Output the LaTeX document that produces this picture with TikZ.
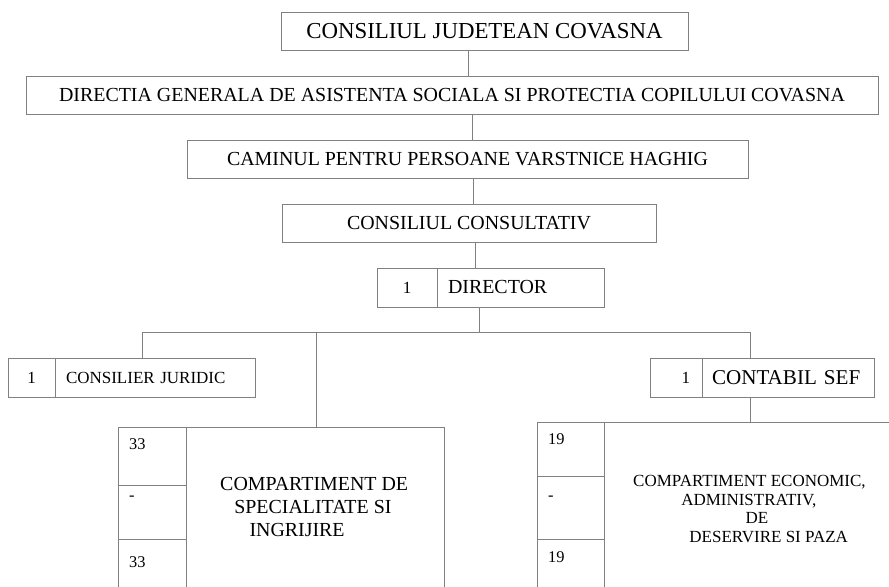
\documentclass[tikz,border=0pt]{standalone}
\usepackage{fontspec}
\setmainfont{Liberation Serif}
\definecolor{linegray}{gray}{0.5}
\tikzset{
  box/.style={draw=linegray, line width=0.7pt, rectangle, inner sep=0pt, align=center},
  link/.style={draw=linegray, line width=0.7pt},
  num/.style={inner sep=0pt, anchor=west, font=\fontsize{14}{16}\selectfont},
}

\begin{document}
\begin{tikzpicture}[x=0.03cm, y=-0.03cm]
  % one pixel of the reference (y runs downwards)
  \def\px{0.03cm}
  \useasboundingbox (0,0) rectangle (889,587);
  \clip (0,0) rectangle (889,587);

  % chain of offices at the top
  \node[box, minimum width=407*\px, minimum height=38*\px, font=\fontsize{19.5}{22}\selectfont]
    (cjc) at (484.5,31) {CONSILIUL JUDETEAN COVASNA};
  \node[box, minimum width=852*\px, minimum height=38*\px, font=\fontsize{17}{20}\selectfont]
    (dgas) at (452,95) {DIRECTIA GENERALA DE ASISTENTA SOCIALA SI PROTECTIA COPILULUI COVASNA};
  \node[box, minimum width=561*\px, minimum height=38*\px, font=\fontsize{17}{20}\selectfont]
    (cpv) at (467.5,159) {CAMINUL PENTRU PERSOANE VARSTNICE HAGHIG};
  \node[box, minimum width=374*\px, minimum height=38*\px, font=\fontsize{17}{20}\selectfont]
    (cc) at (469,223) {CONSILIUL CONSULTATIV};

  % director: count cell + name cell
  \node[box, minimum width=60*\px, minimum height=39*\px, font=\fontsize{14.5}{17}\selectfont]
    (dirn) at (407,287.5) {1};
  \node[box, minimum height=39*\px, inner xsep=11*\px, text width=145*\px, align=left,
    font=\fontsize{17}{20}\selectfont] (dir) at (520.5,287.5) {DIRECTOR};

  % consilier juridic
  \node[box, minimum width=47*\px, minimum height=39*\px, font=\fontsize{14.5}{17}\selectfont]
    (cjn) at (31.5,377.5) {1};
  \node[box, minimum height=39*\px, inner xsep=11*\px, text width=178*\px, align=left,
    font=\fontsize{14.5}{17}\selectfont] (cj) at (155,377.5) {CONSILIER JURIDIC};

  % contabil sef
  \node[box, minimum height=39*\px, inner xsep=12*\px, text width=28*\px, align=right,
    font=\fontsize{14.5}{17}\selectfont] (csn) at (676,377.5) {1};
  \node[box, minimum height=39*\px, inner xsep=10*\px, text width=152*\px, align=left,
    font=\fontsize{18}{21}\selectfont] (cs) at (788,377.5) {CONTABIL SEF};

  % left compartment: count column and name cell
  \foreach \i/\yc/\h/\ty/\t in {1/456/58/444/33, 2/512/54/498/-, 3/569.5/61/562/33} {
    \node[box, minimum width=68*\px, minimum height=\h*\px] (cl\i) at (152,\yc) {};
    \node[num] (clt\i) at (129,\ty) {\t};
  }
  \node[box, minimum width=258*\px, minimum height=173*\px] (cps) at (315,513.5) {};
  \node[anchor=west, align=left, inner sep=0pt, font=\fontsize{17}{19.6}\selectfont]
    (cpst) at (220,507) {COMPARTIMENT DE\\\hspace*{12pt}SPECIALITATE SI\\\hspace*{25pt}INGRIJIRE};

  % right compartment: count column and name cell
  \foreach \i/\yc/\h/\ty/\t in {1/449/54/439/19, 2/507.5/63/498/-, 3/569.5/61/557/19} {
    \node[box, minimum width=67*\px, minimum height=\h*\px] (cr\i) at (570.5,\yc) {};
    \node[num] (crt\i) at (548,\ty) {\t};
  }
  \node[box, minimum width=296*\px, minimum height=178*\px] (cea) at (752,511) {};
  \node[anchor=west, align=left, inner sep=0pt, font=\fontsize{14.5}{15.9}\selectfont]
    (ceat) at (633,509) {COMPARTIMENT ECONOMIC,\\\hspace*{41pt}ADMINISTRATIV,\\
    \hspace*{96pt}DE\\\hspace*{48pt}DESERVIRE SI PAZA};

  % vertical spine
  \coordinate (v1) at (468,0);
  \coordinate (v2) at (472,0);
  \coordinate (v3) at (473,0);
  \coordinate (v4) at (475,0);
  \draw[link] (cjc.south -| v1) -- (dgas.north -| v1);
  \draw[link] (dgas.south -| v2) -- (cpv.north -| v2);
  \draw[link] (cpv.south -| v3) -- (cc.north -| v3);
  \draw[link] (cc.south -| v4) -- (dir.north -| v4);

  % bus under the director
  \coordinate (busM) at (479,332);
  \coordinate (busL) at (142,332);
  \coordinate (busC) at (316,332);
  \coordinate (busR) at (750,332);
  \draw[link] (dir.south -| busM) -- (busM);
  \draw[link] (cj.north -| busL) -- (busL) -- (busR) -- (cs.north -| busR);
  \draw[link] (busC) -- (cps.north -| busC);
  \draw[link] (cs.south -| busR) -- (cea.north -| busR);
\end{tikzpicture}
\end{document}
